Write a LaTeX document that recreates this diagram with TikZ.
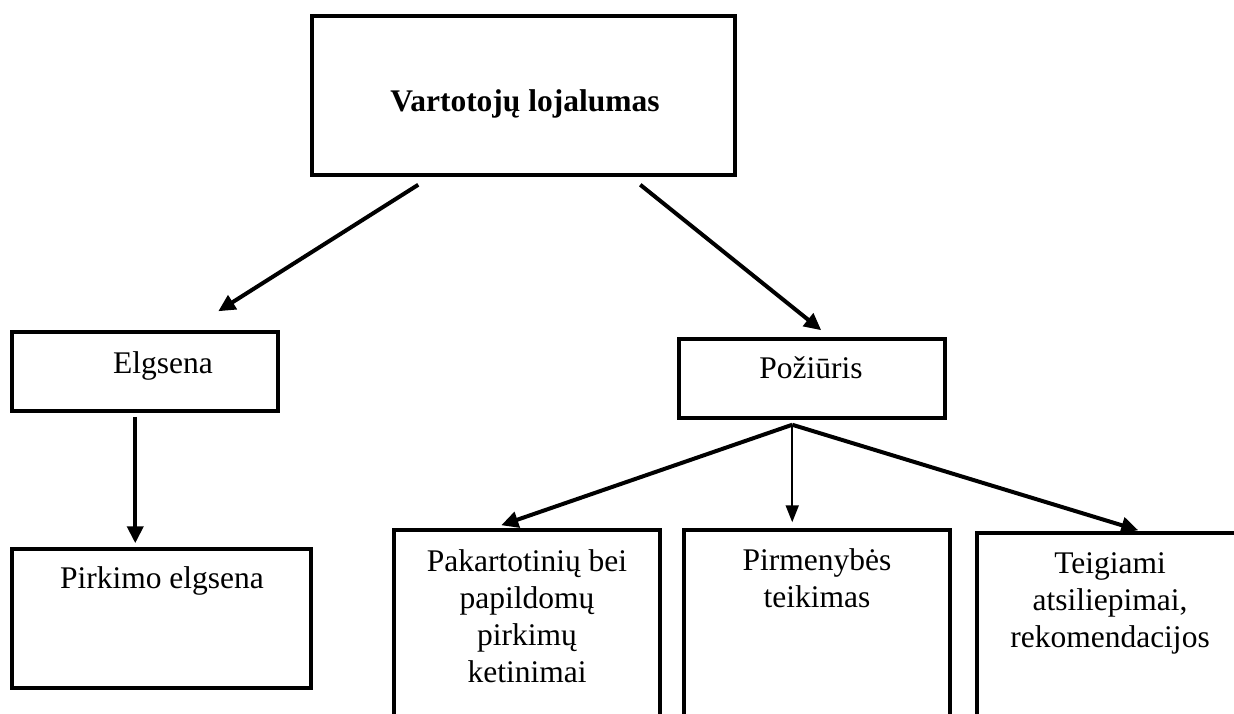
\documentclass[tikz,border=0pt]{standalone}
\usepackage{fontspec}
\setmainfont{Liberation Serif}
\usetikzlibrary{arrows.meta,calc}
\begin{document}
\begin{tikzpicture}[x=1pt,y=-1pt,
  box/.style={draw=black, line width=3.5pt, rectangle, inner sep=0pt},
  lbl/.style={inner sep=0pt, anchor=base, align=center, font=\fontsize{31.5}{37}\selectfont},
  link/.style={line width=4pt, -{Triangle[length=17pt,width=16pt]}},
  thinlink/.style={line width=2pt, -{Triangle[length=17pt,width=13pt]}}]
\useasboundingbox (0,0) rectangle (1234,713);
\clip (0,0) rectangle (1234,713);
\fill[white] (0,0) rectangle (1234,713);

% boxes
\node[box, minimum width=423pt, minimum height=159pt] (top)  at (523.5,95.5) {};
\node[box, minimum width=266pt, minimum height=79pt]  (elg)  at (145,371.5) {};
\node[box, minimum width=266pt, minimum height=79pt]  (poz)  at (812,378.5) {};
\node[box, minimum width=299pt, minimum height=139pt] (pirk) at (161.5,618.5) {};
\node[box, minimum width=266pt, minimum height=230pt] (pak)  at (527,645) {};
\node[box, minimum width=266pt, minimum height=230pt] (pirm) at (817,645) {};
\node[box, minimum width=266pt, minimum height=227pt] (teig) at (1110,646.5) {};

% labels (multi-line labels are placed by the baseline of their last line)
\node[lbl, font=\fontsize{31.5}{37}\selectfont\bfseries] (ttop) at (525,111) {Vartotojų lojalumas};
\node[lbl] (telg)  at (163,373) {Elgsena};
\node[lbl] (tpoz)  at (811,378) {Požiūris};
\node[lbl] (tpirk) at (162,588) {Pirkimo elgsena};
\node[lbl] (tpak)  at (527,682) {Pakartotinių bei\\papildomų\\pirkimų\\ketinimai};
\node[lbl] (tpirm) at (817,607) {Pirmenybės\\teikimas};
\node[lbl] (tteig) at (1110,647) {Teigiami\\atsiliepimai,\\rekomendacijos};

% connectors
\draw[link] ($(top.south west)+(108,8)$) -- ($(elg.north west)+(208,-19)$);
\draw[link] ($(top.south west)+(330,8)$) -- ($(poz.north west)+(144,-7)$);
\draw[link] ($(elg.south west)+(125,4)$) -- ($(pirk.north west)+(125,-4)$);
\draw[link] ($(poz.south west)+(115,5)$) -- ($(pak.north west)+(109,-3)$);
\draw[thinlink] ($(poz.south west)+(115,5)$) -- ($(pirm.north west)+(110,-6)$);
\draw[link] ($(poz.south west)+(115,5)$) -- ($(teig.north west)+(163,-1)$);
\end{tikzpicture}
\end{document}
